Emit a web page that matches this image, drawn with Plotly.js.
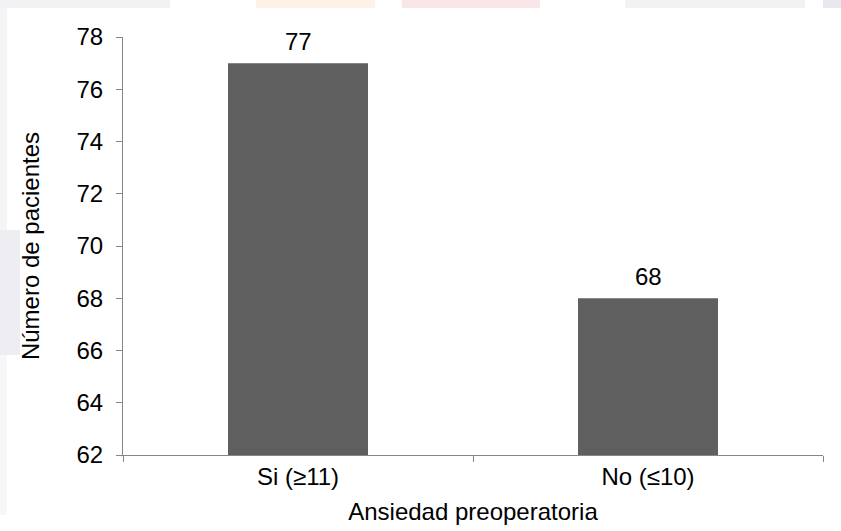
<!DOCTYPE html>
<html>
<head>
<meta charset="utf-8">
<script src="https://cdn.plot.ly/plotly-3.0.1.min.js"></script>
<style>
  html, body { margin: 0; padding: 0; background: #ffffff; }
  #wrap { position: relative; width: 841px; height: 531px; overflow: hidden; }
  .wm { position: absolute; }
  #chart { position: absolute; left: 0; top: 0; width: 841px; height: 531px; }
</style>
</head>
<body>
<div id="wrap">
  <!-- faint page decoration behind the chart -->
  <div class="wm" style="left:0;top:0;width:170px;height:8px;background:#f2f2f5"></div>
  <div class="wm" style="left:256px;top:0;width:119px;height:8px;background:#fef2e6"></div>
  <div class="wm" style="left:402px;top:0;width:138px;height:8px;background:#f9e6e8"></div>
  <div class="wm" style="left:625px;top:0;width:180px;height:8px;background:#f2f2f5"></div>
  <div class="wm" style="left:823px;top:0;width:18px;height:8px;background:#e8e8ee"></div>
  <div class="wm" style="left:0;top:8px;width:7px;height:222px;background:#f4f4f6"></div>
  <div class="wm" style="left:0;top:230px;width:20px;height:125px;background:#eeeef2"></div>
  <div class="wm" style="left:0;top:355px;width:7px;height:160px;background:#f7f7f9"></div>
  <div id="chart"></div>
</div>
<script>
// Patients grouped by preoperative anxiety score
const categories = ["Si (≥11)", "No (≤10)"];
const patients = [77, 68];
const yTicks = [62, 64, 66, 68, 70, 72, 74, 76, 78];
const yFloor = 62;

const axisColor = "#868686";
const font = "Liberation Sans, Arial, sans-serif";
const fs = 24;

// bars rise from the axis floor up to each value
const trace = {
  type: "bar",
  x: categories,
  y: patients.map(v => v - yFloor),
  base: yFloor,
  width: 0.4,
  marker: { color: "#5f5f5f" },
  hoverinfo: "x+y"
};

// value labels sitting above each bar
const labels = categories.map((c, i) => ({
  x: c,
  y: patients[i],
  xref: "x",
  yref: "y",
  text: String(patients[i]),
  showarrow: false,
  yanchor: "middle",
  yshift: 22,
  font: { family: font, size: fs, color: "#000000" }
}));

const layout = {
  width: 841,
  height: 531,
  margin: { l: 123, r: 18, t: 37, b: 76 },
  paper_bgcolor: "rgba(0,0,0,0)",
  plot_bgcolor: "rgba(0,0,0,0)",
  showlegend: false,
  font: { family: font, size: fs, color: "#000000" },
  annotations: labels,
  xaxis: {
    type: "category",
    range: [-0.5, 1.5],
    showline: true,
    linecolor: axisColor,
    linewidth: 1,
    ticks: "outside",
    tickson: "boundaries",
    ticklen: 6,
    tickcolor: axisColor,
    showgrid: false,
    zeroline: false,
    tickfont: { family: font, size: fs, color: "#000000" },
    title: { text: "Ansiedad preoperatoria", font: { family: font, size: fs, color: "#000000" }, standoff: 14 }
  },
  yaxis: {
    range: [62, 78],
    tickvals: yTicks,
    ticktext: yTicks.map(String),
    showline: true,
    linecolor: axisColor,
    linewidth: 1,
    ticks: "outside",
    ticklen: 6,
    tickcolor: axisColor,
    ticklabelstandoff: 8,
    showgrid: false,
    zeroline: false,
    tickfont: { family: font, size: fs, color: "#000000" },
    title: { text: "Número de pacientes", font: { family: font, size: fs, color: "#000000" }, standoff: 30 }
  }
};

Plotly.newPlot("chart", [trace], layout, { displayModeBar: false, staticPlot: true });
</script>
</body>
</html>
